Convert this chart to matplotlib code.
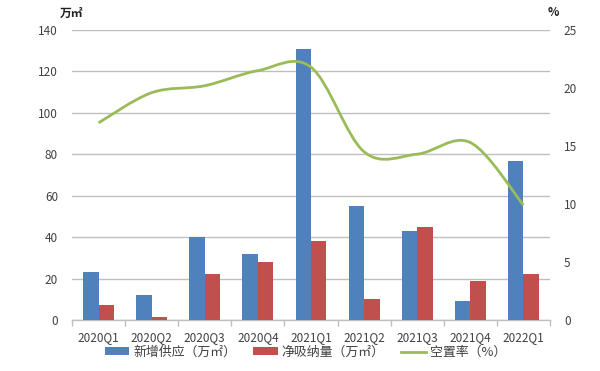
import matplotlib
matplotlib.use("Agg")
import matplotlib.pyplot as plt
import numpy as np
from matplotlib.path import Path
from matplotlib.patches import PathPatch, Patch
from matplotlib.lines import Line2D

plt.rcParams['font.family'] = ['Noto Sans CJK SC', 'DejaVu Sans']

categories = ["2020Q1", "2020Q2", "2020Q3", "2020Q4", "2021Q1", "2021Q2", "2021Q3", "2021Q4", "2022Q1"]
new_supply = [23, 12, 40, 32, 131, 55, 43, 9, 77]
absorption = [7, 1.5, 22, 28, 38, 10, 45, 19, 22]
vacancy = [17.0, 19.6, 20.2, 21.5, 21.8, 14.5, 14.3, 15.3, 9.9]
left_ticks = [0, 20, 40, 60, 80, 100, 120, 140]
right_ticks = [0, 5, 10, 15, 20, 25]

blue = "#4F81BD"
red = "#C0504D"
green = "#9BBB59"
grid_c = "#BFBFBF"
txt_c = "#404040"

fig = plt.figure(figsize=(6, 3.71), dpi=100)
ax = fig.add_axes([0.12, 0.1375, 0.7967, 0.7815])
x = np.arange(len(categories))
w = 0.29
ax.bar(x - w / 2, new_supply, width=w, color=blue, zorder=3)
ax.bar(x + w / 2, absorption, width=w, color=red, zorder=3)
ax.set_xlim(-0.5, len(categories) - 0.5)
ax.set_ylim(0, 140)
ax.set_yticks(left_ticks)
ax.yaxis.grid(True, color=grid_c, linewidth=1.0, zorder=0)
ax.set_axisbelow(True)
for s in ["top", "right", "left"]:
    ax.spines[s].set_visible(False)
ax.spines["bottom"].set_color(grid_c)
ax.spines["bottom"].set_linewidth(1.0)
ax.set_xticks(x)
ax.set_xticklabels(categories)
ax.set_xticks(np.arange(-0.5, len(categories), 1.0), minor=True)
ax.tick_params(axis='x', which='major', length=0, pad=8, labelsize=8.5, labelcolor=txt_c)
ax.tick_params(axis='x', which='minor', length=4, color=grid_c, width=1.0)
ax.tick_params(axis='y', length=0, pad=10, labelsize=8.5, labelcolor=txt_c)

ax2 = ax.twinx()
ax2.set_ylim(0, 25)
ax2.set_yticks(right_ticks)
for s in ["top", "right", "left", "bottom"]:
    ax2.spines[s].set_visible(False)
ax2.tick_params(axis='y', length=0, pad=10, labelsize=8.5, labelcolor=txt_c)

# smoothed line (Catmull-Rom Bezier through the data points)
pts = np.column_stack([x, vacancy]).astype(float)
n = len(pts)
verts = [tuple(pts[0])]
codes = [Path.MOVETO]
for i in range(n - 1):
    p0 = pts[i - 1] if i > 0 else pts[i]
    p1 = pts[i]
    p2 = pts[i + 1]
    p3 = pts[i + 2] if i + 2 < n else pts[i + 1]
    c1 = p1 + (p2 - p0) / 6.0
    c2 = p2 - (p3 - p1) / 6.0
    verts += [tuple(c1), tuple(c2), tuple(p2)]
    codes += [Path.CURVE4] * 3
ax2.add_patch(PathPatch(Path(verts, codes), facecolor='none', edgecolor=green, linewidth=2.0, zorder=4))

fig.text(0.1, 0.965, "万㎡", fontsize=8.5, fontweight='bold', color="#202020", ha='left', va='center')
fig.text(0.913, 0.965, "%", fontsize=8.5, fontweight='bold', color="#202020", ha='left', va='center')

handles = [Patch(facecolor=blue, edgecolor='none'),
           Patch(facecolor=red, edgecolor='none'),
           Line2D([0], [0], color=green, linewidth=2.0)]
labels = ["新增供应（万㎡）", "净吸纳量（万㎡）", "空置率（%）"]
fig.legend(handles, labels, loc='center', bbox_to_anchor=(0.509, 0.05), ncol=3, frameon=False,
           fontsize=9.3, handlelength=1.9, handleheight=0.55, handletextpad=0.3, columnspacing=1.3,
           labelcolor=txt_c)

fig.savefig("out.png", dpi=100)
